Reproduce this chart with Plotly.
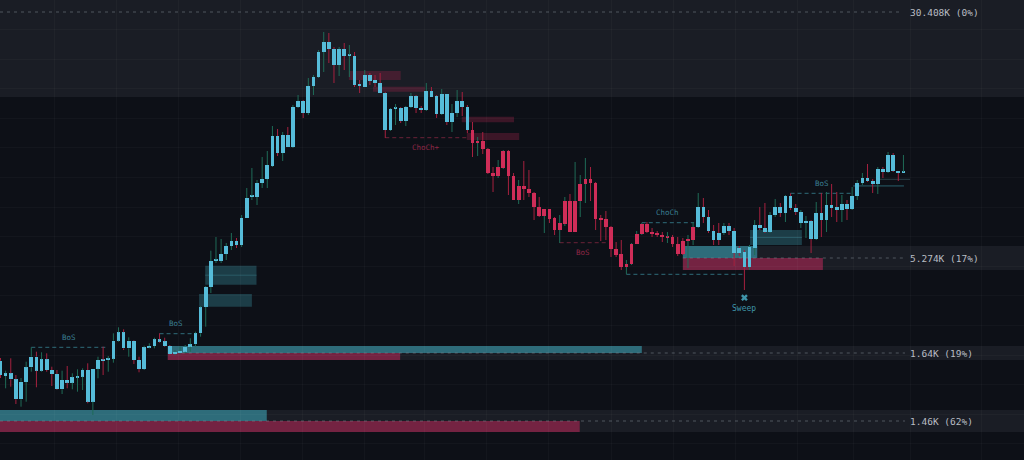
import plotly.graph_objects as go

# ---------------- candle data (price units) ----------------
open_ = [
    99.3, 84, 86.7, 80.7, 60.7, 78, 92.7, 103.3, 89.3, 100.7,
    90, 86, 70.7, 80, 77.3, 82.7, 83.3, 90, 58.3, 91.3,
    100, 100, 101.3, 119.3, 127.7, 111.7, 119.3, 100, 91, 112.7,
    114, 120.7, 118.7, 114, 106, 106.7, 108.3, 113.3, 115.7, 126.7,
    153, 173, 199, 199, 206, 214, 219, 215, 242, 263,
    263, 277, 281, 294, 324, 307, 325, 313, 353, 359,
    347, 374, 383, 408, 418, 411, 395, 411, 404, 404,
    376, 373, 385, 380, 377, 367, 330, 351, 352, 339,
    353, 364, 352, 350, 369, 364, 346, 366, 338, 347,
    359, 353, 330, 317, 319, 311, 287, 284, 292, 309,
    284, 260, 274, 271, 267, 253, 244, 251, 242, 230,
    236, 259, 228, 259, 276, 281, 277, 242, 241, 233,
    211, 206, 193, 196, 216, 226, 236, 228, 227, 225,
    222, 223, 216, 219, 219, 220, 233, 253, 243, 229,
    227, 227, 234, 229, 212, 208, 193, 212, 235, 232,
    228, 245, 253, 247, 264, 252, 237, 237, 239, 221,
    247, 240, 255, 253, 250, 256, 251, 264, 277, 282,
    279, 276, 291, 288, 305, 289, 287,
]
close = [
    85, 86.7, 80.7, 60.7, 78.3, 92.7, 103.3, 89.3, 100.7, 90,
    86, 70.7, 80, 77.3, 82.7, 83.7, 90, 58.3, 91.3, 100,
    99, 101.3, 119.3, 127.7, 111.7, 119.3, 100, 91, 112.7, 114,
    120.7, 118.3, 114, 106, 108.3, 109, 113.3, 115.7, 126.7, 152.7,
    173, 199, 200, 206, 214, 219, 215, 242, 262, 264,
    277, 281, 295, 324, 307, 325, 313, 353, 359, 347,
    374, 383, 408, 418, 411, 395, 411, 404, 405, 375,
    374, 385, 379, 377, 367, 330, 351, 352, 339, 353,
    364, 352, 350, 369, 363, 346, 366, 338, 347, 359,
    353, 330, 317, 319, 311, 287, 284, 293, 309, 284,
    260, 274, 271, 267, 253, 244, 251, 241, 230, 237,
    259, 228, 259, 276, 281, 277, 241, 240, 233, 211,
    205, 193, 196, 216, 226, 236, 228, 226, 225, 223,
    223, 216, 206, 206, 221, 233, 253, 243, 229, 220,
    220, 234, 229, 207, 207, 193, 213, 235, 232, 228,
    245, 253, 247, 264, 252, 248, 248, 239, 221, 247,
    240, 255, 252, 250, 256, 251, 264, 277, 282, 279,
    276, 291, 288, 305, 289, 287, 288,
]
high = [
    102, 89.3, 101.7, 85, 82, 98.3, 112.7, 108.3, 107.7, 106.7,
    93.3, 90, 89.3, 94, 86.7, 90.7, 91.7, 96.7, 91.3, 103.3,
    113.3, 104, 126.7, 132.7, 130.7, 122.7, 120, 103.3, 114.3, 116.7,
    122.3, 126.7, 122.3, 115, 110, 113.3, 115, 121.7, 128.3, 154,
    174, 209.3, 223, 221, 217, 227, 222, 245, 272, 292,
    280, 303, 309, 334, 331, 328, 333, 355, 365, 360,
    382, 385, 410, 428, 427, 413, 413, 417, 415, 408,
    380, 390, 387, 385, 387, 368, 352, 356, 353, 354,
    367, 365, 354, 377, 373, 365, 371, 366, 356, 370,
    368, 355, 338, 323, 328, 312, 293, 300, 310, 310,
    287, 280, 299, 290, 268, 263, 251, 251, 243, 245,
    263, 266, 298, 285, 302, 293, 278, 245, 249, 234,
    218, 220, 200, 217, 229, 237, 238, 232, 229, 228,
    228, 225, 223, 222, 225, 238, 267, 262, 250, 235,
    237, 237, 237, 232, 214, 210, 215, 240, 253, 257,
    248, 261, 257, 265, 266.7, 256, 250, 244, 240, 258,
    267, 268, 276, 268, 265, 260, 273, 280, 287, 296,
    281, 293, 293, 308, 307, 289, 305,
]
low = [
    82, 71.7, 73.3, 56, 53.3, 58.3, 88.3, 72.7, 88.3, 88.3,
    74, 70, 66, 71.7, 70.7, 68.3, 70, 56.7, 45, 81.7,
    85, 88.3, 97.3, 118.3, 110, 103.3, 96, 87.7, 90, 111.7,
    111.7, 117.3, 113.3, 105, 105, 105.7, 106.7, 108.3, 113.3, 123.3,
    133.3, 167, 197, 197, 200, 210, 212, 213, 242, 260,
    255, 272, 272, 293, 304, 299, 313, 312, 352, 342,
    345, 365, 382, 388, 397, 377, 384, 390, 383, 373,
    367, 373, 375, 373, 367, 322, 329, 335, 337, 334,
    352, 347, 347, 349, 363, 342, 345, 335, 328, 343,
    344, 327, 303, 304, 306, 286, 268, 282, 291, 265,
    260, 256, 260, 263, 240, 243, 227, 237, 225, 217,
    234, 228, 228, 243, 257, 259, 230, 219, 220, 203,
    203, 190, 185.7, 195, 216, 225, 227, 223, 223, 218,
    217, 213, 204, 205, 192, 215, 232, 237, 227, 215,
    215, 225, 225, 194, 204, 170, 190, 205, 230, 227,
    227, 243, 243, 238, 250, 245, 232, 222, 207, 220,
    223, 228, 243, 238, 238, 240, 250, 260, 275, 278,
    267, 266, 282, 287, 288, 279, 287,
]
# market-structure trend (body colour): first idx, last idx, bias
trend_segments = [(0, 91, "bull"), (92, 135, "bear"), (136, 176, "bull")]

# ---------------- liquidity levels ----------------
level_labels = ["30.408K (0%)", "5.274K (17%)", "1.64K (19%)", "1.46K (62%)"]
level_price = [448, 202, 107, 39]
band_top = [460, 214, 114, 50]
band_bottom = [363, 190, 100, 28]
band_start = [-1, 133.0, 32.6, -1]
level_line_start = [-0.1, 133.0, 32.6, -0.1]
level_line_end = [175.4, 176.3, 176.3, 176.3]
vol_bull_end = [None, 147.5, 125.0, 51.9]
vol_bear_end = [None, 160.3, 77.9, 112.9]

# ---------------- order blocks ----------------
bull_ob_x0 = [39.9, 38.7, 146.1, 166.2]
bull_ob_x1 = [49.9, 49.0, 156.2, 176.1]
bull_ob_top = [194.3, 166, 230, 275]
bull_ob_bottom = [175.3, 153.3, 215, 273.3]
bull_ob_mid = [True, False, True, False]
bear_ob_x0 = [67.9, 72.6, 89.9, 90.9]
bear_ob_x1 = [78.0, 82.7, 100.1, 101.1]
bear_ob_top = [389, 373.3, 343.3, 327]
bear_ob_bottom = [380, 368.3, 337.7, 320]
mitig_x0, mitig_x1, mitig_price = 171.4, 177.3, 280.7

# ---------------- structure breaks ----------------
struct_text = ["BoS", "BoS", "ChoCh+", "BoS", "ChoCh", "BoS"]
struct_price = [112.7, 126.3, 322.3, 217.3, 237.3, 266.7]
struct_x0 = [6, 31, 75, 109, 125, 154]
struct_x1 = [20.8, 37.5, 90.9, 118.2, 135.2, 166.2]
struct_bias = ["bull", "bull", "bear", "bear", "bull", "bull"]
sweep_x0, sweep_x1, sweep_price = 122, 145, 185.7
sweep_mark_price, sweep_label_price = 162.3, 151.7

# ---------------- styling ----------------
BG = "#0d1017"
BAND = "#1a1d25"
CYAN = "#56bcd9"
RED = "#cf2d58"
WICK_UP = "#1f6b57"
WICK_DN = "#a6213f"
VOL_BULL = "#2e6c7a"
VOL_BEAR = "#742342"
OB_BULL = "#1c3d47"
OB_BULL_MID = "#2a5a66"
OB_BEAR = "rgba(150,35,70,0.35)"
STRUCT_BULL = "#2f6c7a"
STRUCT_BEAR = "#6b2238"
LABEL_BULL = "#3a7f92"
LABEL_BEAR = "#8f2746"
GRID = "rgba(255,255,255,0.028)"
MONO = "DejaVu Sans Mono"

n = len(open_)
idx = list(range(n))

body_color = [None] * n
for a, b, bias in trend_segments:
    for i in range(a, b + 1):
        body_color[i] = CYAN if bias == "bull" else RED

bases = [min(o, c) for o, c in zip(open_, close)]
heights = [max(abs(c - o), 1.3) for o, c in zip(open_, close)]


def wick_xy(bull):
    xs, ys = [], []
    for i, (o, h, l, c) in enumerate(zip(open_, high, low, close)):
        if (c > o) != bull:
            continue
        top, bot = max(o, c), min(o, c)
        if h > top:
            xs += [i, i, None]
            ys += [top, h, None]
        if l < bot:
            xs += [i, i, None]
            ys += [bot, l, None]
    return xs, ys


fig = go.Figure()
for bull, col in [(True, WICK_UP), (False, WICK_DN)]:
    wx, wy = wick_xy(bull)
    fig.add_trace(go.Scatter(x=wx, y=wy, mode="lines", line=dict(color=col, width=1),
                             hoverinfo="skip", showlegend=False))
fig.add_trace(go.Bar(x=idx, y=heights, base=bases, width=0.72,
                     marker=dict(color=body_color, line=dict(width=0)),
                     hoverinfo="skip", showlegend=False))

shapes = []
XMAX = 201
# bands
for k in range(len(level_price)):
    shapes.append(dict(type="rect", xref="x", yref="y", x0=band_start[k], x1=XMAX,
                       y0=band_bottom[k], y1=band_top[k], fillcolor=BAND,
                       line=dict(width=0), layer="below"))
# volume bars
for k in range(len(level_price)):
    if vol_bull_end[k] is not None:
        shapes.append(dict(type="rect", xref="x", yref="y", x0=band_start[k], x1=vol_bull_end[k],
                           y0=level_price[k], y1=band_top[k], fillcolor=VOL_BULL,
                           line=dict(width=0), layer="below"))
    if vol_bear_end[k] is not None:
        shapes.append(dict(type="rect", xref="x", yref="y", x0=band_start[k], x1=vol_bear_end[k],
                           y0=band_bottom[k], y1=level_price[k], fillcolor=VOL_BEAR,
                           line=dict(width=0), layer="below"))
# order blocks
for k in range(len(bull_ob_x0)):
    shapes.append(dict(type="rect", xref="x", yref="y", x0=bull_ob_x0[k], x1=bull_ob_x1[k],
                       y0=bull_ob_bottom[k], y1=bull_ob_top[k], fillcolor=OB_BULL,
                       line=dict(width=0), layer="below"))
    if bull_ob_mid[k]:
        m = (bull_ob_top[k] + bull_ob_bottom[k]) / 2
        shapes.append(dict(type="line", xref="x", yref="y", x0=bull_ob_x0[k], x1=bull_ob_x1[k],
                           y0=m, y1=m, line=dict(color=OB_BULL_MID, width=1), layer="below"))
for k in range(len(bear_ob_x0)):
    shapes.append(dict(type="rect", xref="x", yref="y", x0=bear_ob_x0[k], x1=bear_ob_x1[k],
                       y0=bear_ob_bottom[k], y1=bear_ob_top[k], fillcolor=OB_BEAR,
                       line=dict(width=0), layer="below"))
shapes.append(dict(type="line", xref="x", yref="y", x0=mitig_x0, x1=mitig_x1,
                   y0=mitig_price, y1=mitig_price, line=dict(color="#2b3f47", width=1), layer="below"))
# level dashed lines
for k in range(len(level_price)):
    shapes.append(dict(type="line", xref="x", yref="y", x0=level_line_start[k], x1=level_line_end[k],
                       y0=level_price[k], y1=level_price[k],
                       line=dict(color="rgba(125,131,142,0.55)", width=1, dash="3px,4px"),
                       layer="below"))
# structure lines
for k in range(len(struct_text)):
    col = STRUCT_BULL if struct_bias[k] == "bull" else STRUCT_BEAR
    shapes.append(dict(type="line", xref="x", yref="y", x0=struct_x0[k], x1=struct_x1[k],
                       y0=struct_price[k], y1=struct_price[k],
                       line=dict(color=col, width=1, dash="4px,3px"), layer="below"))
shapes.append(dict(type="line", xref="x", yref="y", x0=sweep_x0, x1=sweep_x1,
                   y0=sweep_price, y1=sweep_price,
                   line=dict(color=STRUCT_BULL, width=1, dash="4px,3px"), layer="below"))

annotations = []
for k in range(len(level_price)):
    annotations.append(dict(x=176.8, y=level_price[k], xref="x", yref="y", text=level_labels[k],
                            showarrow=False, xanchor="left", yanchor="middle",
                            font=dict(family=MONO, size=9.5, color="#b8bcc3")))
for k in range(len(struct_text)):
    bull = struct_bias[k] == "bull"
    annotations.append(dict(x=(struct_x0[k] + struct_x1[k]) / 2,
                            y=struct_price[k] + (10 if bull else -10),
                            xref="x", yref="y", text=struct_text[k], showarrow=False,
                            xanchor="center", yanchor="middle",
                            font=dict(family=MONO, size=7.5, color=LABEL_BULL if bull else LABEL_BEAR)))
annotations.append(dict(x=sweep_x1, y=sweep_label_price, xref="x", yref="y", text="Sweep",
                        showarrow=False, xanchor="center", yanchor="middle",
                        font=dict(family=MONO, size=8, color="#3f95aa")))
fig.add_trace(go.Scatter(x=[sweep_x1], y=[sweep_mark_price], mode="markers",
                         marker=dict(symbol="x", size=6, color="#3f95aa"),
                         hoverinfo="skip", showlegend=False))

grid_x = [10.6, 22.7, 34.6, 46.7, 58.8, 70.9, 82.7, 94.8, 106.9, 119.0,
          131.1, 143.2, 155.3, 166.2, 177.3, 191.3]

fig.update_layout(
    width=1024, height=460,
    margin=dict(l=0, r=0, t=0, b=0),
    paper_bgcolor=BG, plot_bgcolor=BG,
    showlegend=False,
    shapes=shapes, annotations=annotations,
    xaxis=dict(range=[-0.1, 199.5], showticklabels=False, zeroline=False,
               tickmode="array", tickvals=grid_x, showgrid=True,
               gridcolor=GRID, ticks="", fixedrange=True),
    yaxis=dict(range=[0, 460], showticklabels=False, zeroline=False,
               tick0=16.1, dtick=29.6, showgrid=True,
               gridcolor=GRID, ticks="", fixedrange=True),
    bargap=0,
)

fig.write_html(
    "out.html",
    config={"displayModeBar": False},
    post_script="document.body.style.margin='0';document.body.style.overflow='hidden';"
                "document.body.style.background='" + BG + "';",
)
